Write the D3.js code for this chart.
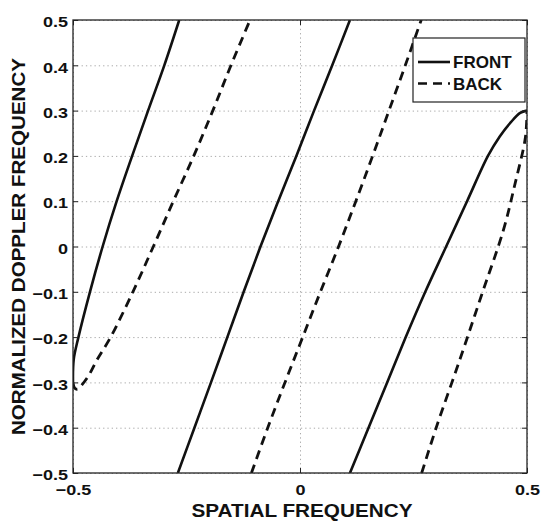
<!DOCTYPE html>
<html lang="en">
<head>
    <meta charset="UTF-8">
    <title>Doppler vs spatial frequency</title>
    <style type="text/css">
        * {
            margin: 0;
            padding: 0;
        }
        body {
            background: white;
        }
        text {
            font-family: "Liberation Sans", Arial, sans-serif;
            font-weight: bold;
            fill: #111;
        }
    </style>
</head>
<body>
<div id="chart-area"></div>
<script src="https://cdn.jsdelivr.net/npm/d3@7"></script>
<script type="text/javascript">
    // curve points: [spatial freq, doppler]
    const frontA = [[-0.5, -0.3], [-0.4985, -0.25], [-0.488, -0.2], [-0.4626, -0.1], [-0.4347, 0],
        [-0.4038, 0.1], [-0.3697, 0.2], [-0.3346, 0.3], [-0.2989, 0.4], [-0.266, 0.5]]
    const frontB = [[-0.269, -0.5], [-0.2325, -0.4], [-0.196, -0.3], [-0.16, -0.2], [-0.124, -0.1],
        [-0.087, 0], [-0.048, 0.1], [-0.008, 0.2], [0.031, 0.3], [0.071, 0.4], [0.11, 0.5]]
    const frontC = [[0.11, -0.5], [0.151, -0.4], [0.192, -0.3], [0.233, -0.2], [0.276, -0.1],
        [0.322, 0], [0.368, 0.1], [0.414, 0.2], [0.44, 0.243], [0.465, 0.275], [0.485, 0.295], [0.5, 0.3]]
    const backA = [[-0.5, -0.3], [-0.496, -0.313], [-0.49, -0.315], [-0.48, -0.305], [-0.465, -0.284],
        [-0.447, -0.25], [-0.417, -0.2], [-0.368, -0.1], [-0.323, 0], [-0.279, 0.1],
        [-0.234, 0.2], [-0.192, 0.3], [-0.152, 0.4], [-0.11, 0.5]]
    const backB = [[-0.107, -0.5], [-0.071, -0.4], [-0.033, -0.3], [0.006, -0.2], [0.045, -0.1],
        [0.085, 0], [0.123, 0.1], [0.16, 0.2], [0.196, 0.3], [0.232, 0.4], [0.267, 0.5]]
    const backC = [[0.268, -0.5], [0.3, -0.4], [0.352, -0.25], [0.4, -0.107], [0.448, 0.036],
        [0.474, 0.14], [0.4956, 0.235], [0.4995, 0.28], [0.5, 0.3]]

    const xTicks = [-0.5, 0, 0.5]
    const xTickLabels = ['\u22120.5', '0', '0.5']
    const yTicks = [-0.5, -0.4, -0.3, -0.2, -0.1, 0, 0.1, 0.2, 0.3, 0.4, 0.5]
    const yTickLabels = ['\u22120.5', '\u22120.4', '\u22120.3', '\u22120.2', '\u22120.1', '0',
        '0.1', '0.2', '0.3', '0.4', '0.5']
    const legendLabels = ['FRONT', 'BACK']

    const W = 541
    const H = 521
    const margin = {left: 73, right: 14, top: 20, bottom: 48}
    const width = W - margin.left - margin.right
    const height = H - margin.top - margin.bottom

    const svg = d3.select('#chart-area').append('svg')
    .attr('width', W)
    .attr('height', H)
    .style('background-color', 'white')

    const g = svg.append('g')
    .attr('transform', `translate(${margin.left},${margin.top})`)

    const x = d3.scaleLinear().domain([-0.5, 0.5]).range([0, width])
    const y = d3.scaleLinear().domain([-0.5, 0.5]).range([height, 0])

    // dotted grid
    g.append('g')
    .call(d3.axisLeft(y).tickValues(yTicks).tickSize(-width).tickFormat(''))
    .call(s => s.select('.domain').remove())
    .selectAll('line')
    .attr('stroke', '#aaa')
    .attr('stroke-dasharray', '1.3,3')
    g.append('g')
    .attr('transform', `translate(0,${height})`)
    .call(d3.axisBottom(x).tickValues(xTicks).tickSize(-height).tickFormat(''))
    .call(s => s.select('.domain').remove())
    .selectAll('line')
    .attr('stroke', '#aaa')
    .attr('stroke-dasharray', '1.3,3')

    svg.append('clipPath').attr('id', 'clip')
    .append('rect')
    .attr('width', width)
    .attr('height', height)

    const line = d3.line()
    .x(d => x(d[0]))
    .y(d => y(d[1]))
    .curve(d3.curveCatmullRom.alpha(0.5))

    const curves = g.append('g').attr('clip-path', 'url(#clip)')
    ;[frontA, frontB, frontC].forEach(pts => {
        curves.append('path')
        .attr('d', line(pts))
        .attr('fill', 'none')
        .attr('stroke', '#111')
        .attr('stroke-width', 2.6)
    })
    ;[backA, backB, backC].forEach(pts => {
        curves.append('path')
        .attr('d', line(pts))
        .attr('fill', 'none')
        .attr('stroke', '#111')
        .attr('stroke-width', 2.8)
        .attr('stroke-dasharray', '9,6')
    })

    // axes with inward ticks
    const stretch = sel => sel.each(function () {
        const len = this.getComputedTextLength()
        d3.select(this).attr('textLength', len * 1.2).attr('lengthAdjust', 'spacingAndGlyphs')
    })

    const yAxis = g.append('g')
    .call(d3.axisLeft(y).tickValues(yTicks).tickSize(-5).tickPadding(5)
        .tickFormat((d, i) => yTickLabels[i]))
    yAxis.selectAll('text')
    .attr('font-size', 15)
    .attr('dy', '0.45em')
    .call(stretch)

    const xAxis = g.append('g')
    .attr('transform', `translate(0,${height})`)
    .call(d3.axisBottom(x).tickValues(xTicks).tickSize(-5).tickPadding(11)
        .tickFormat((d, i) => xTickLabels[i]))
    xAxis.selectAll('text')
    .attr('font-size', 15)
    .call(stretch)

    g.append('g')
    .call(d3.axisTop(x).tickValues(xTicks).tickSize(-5).tickFormat(''))
    g.append('g')
    .attr('transform', `translate(${width},0)`)
    .call(d3.axisRight(y).tickValues(yTicks).tickSize(-5).tickFormat(''))

    g.selectAll('.domain').remove()
    g.selectAll('.tick line').filter(function () {
        return this.getAttribute('stroke-dasharray') === null
    })
    .attr('stroke', '#222')

    g.append('rect')
    .attr('width', width)
    .attr('height', height)
    .attr('fill', 'none')
    .attr('stroke', '#222')
    .attr('stroke-width', 1.3)

    // titles
    svg.append('text')
    .attr('x', 302)
    .attr('y', 517)
    .attr('text-anchor', 'middle')
    .attr('font-size', 18)
    .attr('textLength', 221)
    .attr('lengthAdjust', 'spacingAndGlyphs')
    .text('SPATIAL FREQUENCY')

    svg.append('text')
    .attr('transform', 'translate(25,246.5) rotate(-90)')
    .attr('text-anchor', 'middle')
    .attr('font-size', 18)
    .attr('textLength', 377)
    .attr('lengthAdjust', 'spacingAndGlyphs')
    .text('NORMALIZED DOPPLER FREQUENCY')

    // legend
    const lg = svg.append('g').attr('transform', 'translate(413,38)')
    lg.append('rect')
    .attr('width', 112)
    .attr('height', 64)
    .attr('fill', 'white')
    .attr('stroke', '#222')
    .attr('stroke-width', 1.2)
    legendLabels.forEach((name, i) => {
        lg.append('line')
        .attr('x1', 5)
        .attr('x2', 37)
        .attr('y1', 24 + i * 21.5)
        .attr('y2', 24 + i * 21.5)
        .attr('stroke', '#111')
        .attr('stroke-width', 2.6)
        .attr('stroke-dasharray', i === 0 ? null : '9,6')
        lg.append('text')
        .attr('x', 40)
        .attr('y', 30 + i * 22)
        .attr('font-size', 17)
        .text(name)
    })
</script>
</body>
</html>
